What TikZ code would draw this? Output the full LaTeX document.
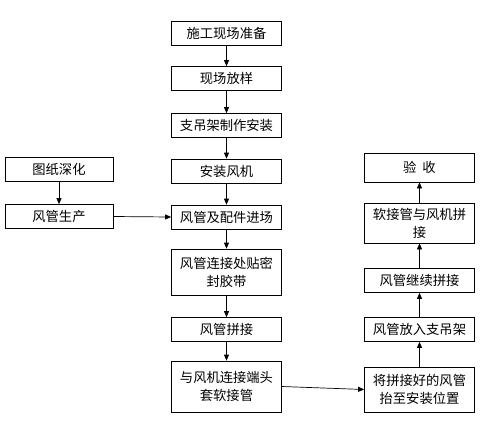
\documentclass[tikz,border=0pt]{standalone}
\usepackage{fontspec}
\newfontfamily\cjk{Noto Sans CJK SC}
\usepackage{tikz}
\usetikzlibrary{arrows.meta}

\begin{document}
\begin{tikzpicture}[x=1pt,y=-1pt]
	\tikzset{stepbox/.style={draw,line width=0.7pt,minimum width=110pt,minimum height=24pt,inner sep=2pt,align=center,font=\cjk\fontsize{13.3}{18}\selectfont}}
	\tikzset{flow/.style={-{Triangle[length=6pt,width=5pt]},line width=0.7pt}}
	%\tikzset{every node/.style={draw=red}}
	\useasboundingbox (0,0) rectangle (483,429);
	\node[stepbox] (prep) at (226.5,33.5) {施工现场准备};
	\node[stepbox] (layout) at (226.5,78.5) {现场放样};
	\node[stepbox] (hanger) at (226.5,125.5) {支吊架制作安装};
	\node[stepbox] (fan) at (226.5,171) {安装风机};
	\node[stepbox] (arrive) at (226.5,217) {风管及配件进场};
	\node[stepbox,minimum height=46pt] (seal) at (226.5,272) {风管连接处贴密\\封胶带};
	\node[stepbox] (joint) at (226.5,329.5) {风管拼接};
	\node[stepbox,minimum height=51pt] (sleeve) at (226.5,386.5) {与风机连接端头\\套软接管};
	\node[stepbox,minimum width=108pt] (drawing) at (59,169.5) {图纸深化};
	\node[stepbox,minimum width=108pt] (produce) at (59,216.5) {风管生产};
	\node[stepbox,minimum height=45pt] (lift) at (419.5,389.5) {将拼接好的风管\\抬至安装位置};
	\node[stepbox] (place) at (419.5,329.5) {风管放入支吊架};
	\node[stepbox] (cont) at (419.5,280.5) {风管继续拼接};
	\node[stepbox,minimum height=40pt] (soft) at (419.5,223) {软接管与风机拼\\接};
	\node[stepbox,minimum height=29pt] (accept) at (419.5,167.5) {验\ \ 收};
	\draw[flow] (prep) -- (layout);
	\draw[flow] (layout) -- (hanger);
	\draw[flow] (hanger) -- (fan);
	\draw[flow] (fan) -- (arrive);
	\draw[flow] (arrive) -- (seal);
	\draw[flow] (seal) -- (joint);
	\draw[flow] (joint) -- (sleeve);
	\draw[flow] (drawing) -- (produce);
	\draw[flow] (produce.east) -- (arrive.west);
	\draw[flow] (sleeve.east) -- (lift.west);
	\draw[flow] (lift) -- (place);
	\draw[flow] (place) -- (cont);
	\draw[flow] (cont) -- (soft);
	\draw[flow] (soft) -- (accept);
\end{tikzpicture}
\end{document}
